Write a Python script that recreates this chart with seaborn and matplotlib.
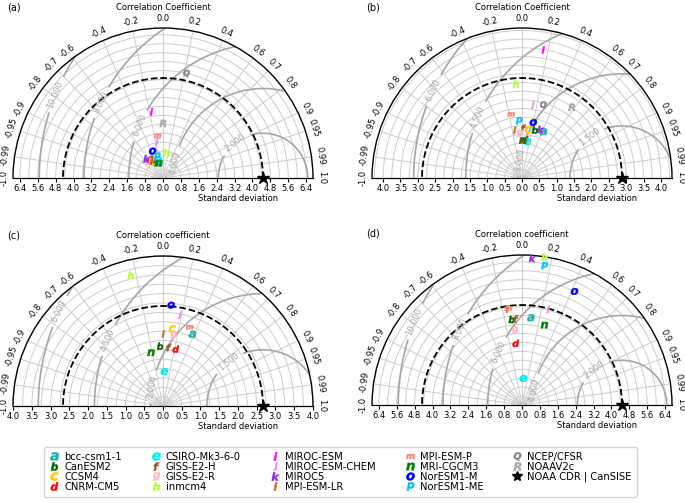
import numpy as np
import pandas as pd
import matplotlib
matplotlib.use('Agg')
import matplotlib.pyplot as plt
import seaborn as sns
from matplotlib.lines import Line2D
from matplotlib.path import Path
from matplotlib.textpath import TextPath
from matplotlib.font_manager import FontProperties

models = ['bcc-csm1-1', 'CanESM2', 'CCSM4', 'CNRM-CM5', 'CSIRO-Mk3-6-0', 'GISS-E2-H',
          'GISS-E2-R', 'inmcm4', 'MIROC-ESM', 'MIROC-ESM-CHEM', 'MIROC5', 'MPI-ESM-LR',
          'MPI-ESM-P', 'MRI-CGCM3', 'NorESM1-M', 'NorESM1-ME', 'NCEP/CFSR', 'NOAAV2c']
letters = list('abcdefghijklmnop') + ['Q', 'R']
colors = ['#20b2aa', '#006400', '#ffcc00', '#ff0000', '#00eeee', '#a0522d',
          '#ffb6c1', '#adff2f', '#ff00ff', '#ee82ee', '#8a2be2', '#d2691e',
          '#fa8072', '#008000', '#0000ff', '#00bfff', '#808080', '#a9a9a9']
ref_name = 'NOAA CDR | CanSISE'
nan = np.nan

# standard deviation / correlation of each model, per panel
std_a = [0.70, 0.79, 0.85, 0.97, 0.83, 1.00, 1.00, 1.14, 3.00, 1.65, 1.12, 0.98, 1.89, 0.69, 1.29, 1.01, 4.79, 2.44]
cor_a = [-0.24, -0.40, -0.51, -0.60, -0.25, -0.55, -0.65, 0.14, -0.17, -0.17, -0.65, -0.52, -0.13, -0.30, -0.36, -0.25, 0.22, 0.0]
std_b = [1.47, 1.43, 1.41, 1.10, 1.06, 1.43, 1.29, 2.71, 3.74, 2.13, 1.50, 1.39, 1.86, 1.08, 1.63, 1.65, 2.19, 2.49]
cor_b = [0.42, 0.26, 0.13, 0.08, 0.145, 0.03, -0.045, -0.064, 0.164, 0.145, 0.36, -0.15, -0.17, 0.02, 0.20, -0.05, 0.28, 0.575]
std_c = [2.07, 1.60, 2.07, 1.56, 0.92, 1.57, 1.92, 3.60, nan, 2.47, nan, 1.92, 2.22, 1.46, 2.70, nan, nan, nan]
cor_c = [0.38, -0.05, 0.12, 0.22, 0.04, 0.10, 0.15, -0.24, nan, 0.18, nan, 0.005, 0.32, -0.22, 0.08, nan, nan, nan]
std_d = [3.92, 3.85, nan, 2.77, 1.19, 3.86, 3.36, 6.70, nan, 4.43, 6.57, 4.34, 4.36, 3.71, 5.59, 6.31, nan, nan]
cor_d = [0.10, -0.12, nan, -0.10, 0.05, -0.07, -0.09, 0.15, nan, 0.265, 0.07, -0.15, -0.14, 0.27, 0.42, 0.16, nan, nan]

ref_std = [4.47, 2.88, 2.67, 4.47]
rms_levels = [[2, 4, 6, 8, 10], [1.5, 3, 4.5, 6], [1.5, 3, 4.5, 6], [2, 4, 6, 8, 10]]
std_step = [0.8, 0.5, 0.5, 0.8]
titles = ['Correlation Coefficient', 'Correlation Coefficient',
          'Correlation coefficient', 'Correlation coefficient']
panel_tags = ['(a)', '(b)', '(c)', '(d)']
cor_ticks = [-1.0, -0.99, -0.95, -0.9, -0.8, -0.7, -0.6, -0.4, -0.2, 0.0,
             0.2, 0.4, 0.6, 0.7, 0.8, 0.9, 0.95, 0.99, 1.0]

panels = [(std_a, cor_a), (std_b, cor_b), (std_c, cor_c), (std_d, cor_d)]

# where the rms labels sit on their circles (degrees, seen from the reference point)
label_dirs = [128, 170, 157, 155, 158]


def letter_marker(ch):
    fp = FontProperties(family='DejaVu Sans', weight='bold', style='italic')
    tp = TextPath((0, 0), ch, prop=fp)
    ext = tp.get_extents()
    c = np.array([(ext.x0 + ext.x1) / 2, (ext.y0 + ext.y1) / 2])
    v = tp.vertices.copy()
    v[tp.codes == Path.CLOSEPOLY] = c
    return Path(v - c, tp.codes)


marker_paths = [letter_marker(ch) for ch in letters]
palette = dict(zip(models, colors))
markers = dict(zip(models, marker_paths))

W, H = 685, 503
fig = plt.figure(figsize=(6.85, 5.03), dpi=100)

centers = [(163, 178), (522, 178), (163, 406), (522, 405)]
R = 150

for k, (stds, cors) in enumerate(panels):
    cx, cy = centers[k]
    rect = [(cx - R) / W, (H - cy) / H, 2 * R / W, R / H]
    # polar axes keep a square box, the half disc sits in its middle
    prect = [(cx - R) / W, (H - cy - R / 2) / H, 2 * R / W, 2 * R / H]
    ref = ref_std[k]
    rmax = 1.5 * ref
    step = std_step[k]

    ax = fig.add_axes(prect, projection='polar')
    ax.set_thetamin(0)
    ax.set_thetamax(180)
    ax.set_thetagrids(np.degrees(np.arccos(cor_ticks)), labels=[str(c) for c in cor_ticks], fontsize=6)
    ax.tick_params(axis='x', labelrotation='auto', pad=-3.0, direction='out', length=2.5)
    ax.set_yticks(np.arange(step / 2, rmax, step / 2))
    ax.set_yticklabels([])
    ax.tick_params(axis='y', length=0)
    ax.grid(True, color='0.8', lw=0.7)
    for s in ['start', 'end', 'inner']:
        ax.spines[s].set_visible(False)
    ax.spines['polar'].set_linewidth(1.0)

    # centred RMS difference contours
    rr, tt = np.meshgrid(np.linspace(0, rmax, 200), np.linspace(0, np.pi, 300))
    rms = np.sqrt(ref ** 2 + rr ** 2 - 2 * ref * rr * np.cos(tt))
    levels = rms_levels[k]
    cs = ax.contour(tt, rr, rms, levels=levels, colors='0.65', linewidths=1.2, zorder=2)
    spots = []
    for lev, a in zip(levels, label_dirs):
        px = ref + lev * np.cos(np.radians(a))
        py = lev * np.sin(np.radians(a))
        spots.append((np.arctan2(py, px), np.hypot(px, py)))
    ax.clabel(cs, inline=True, fontsize=6, fmt='%.3f', manual=spots)

    th = np.linspace(0, np.pi, 200)
    ax.plot(th, np.full_like(th, ref), 'k--', lw=1.3, zorder=3)

    df = pd.DataFrame({'model': models, 'std': stds, 'corr': cors}).dropna()
    df['theta'] = np.arccos(df['corr'])
    sns.scatterplot(data=df, x='theta', y='std', hue='model', style='model',
                    palette=palette, markers=markers, s=27, linewidth=0.3,
                    edgecolor='face', legend=False, ax=ax, clip_on=False, zorder=5)
    ax.plot([0], [ref], marker='*', color='k', ms=9, clip_on=False, zorder=6)
    ax.set_ylim(0, rmax)
    ax.set_xlabel('')
    ax.set_ylabel('')

    # cartesian overlay for the standard deviation axis
    bx = fig.add_axes(rect)
    bx.patch.set_visible(False)
    bx.set_xlim(-rmax, rmax)
    bx.set_ylim(0, rmax)
    for s in ['top', 'left', 'right']:
        bx.spines[s].set_visible(False)
    bx.set_yticks([])
    n = int(np.floor(rmax / step + 1e-6))
    ticks = np.arange(-n, n + 1) * step
    bx.set_xticks(ticks)
    bx.set_xticklabels([f'{abs(t):.1f}' for t in ticks], fontsize=6)
    bx.tick_params(axis='x', length=3, pad=1.5)
    bx.set_xlabel('Standard deviation', fontsize=6)
    bx.xaxis.set_label_coords(0.75, -0.105)
    bx.set_title(titles[k], fontsize=6, pad=13)

    fig.text((cx - 156) / W, 1 - (cy - 176) / H, panel_tags[k], fontsize=7, va='top')

handles = [Line2D([], [], marker=m, color=c, linestyle='none', markersize=6, markeredgewidth=0.3)
           for m, c in zip(marker_paths, colors)]
handles.append(Line2D([], [], marker='*', color='k', linestyle='none', markersize=7))
labels = models + [ref_name]
fig.legend(handles, labels, loc='lower center', bbox_to_anchor=(0.497, 0.002), ncol=5,
           fontsize=7.2, handlelength=1.0, handletextpad=0.5, columnspacing=2.9,
           labelspacing=0.0, borderpad=0.5)

fig.savefig('out.png', dpi=100)
